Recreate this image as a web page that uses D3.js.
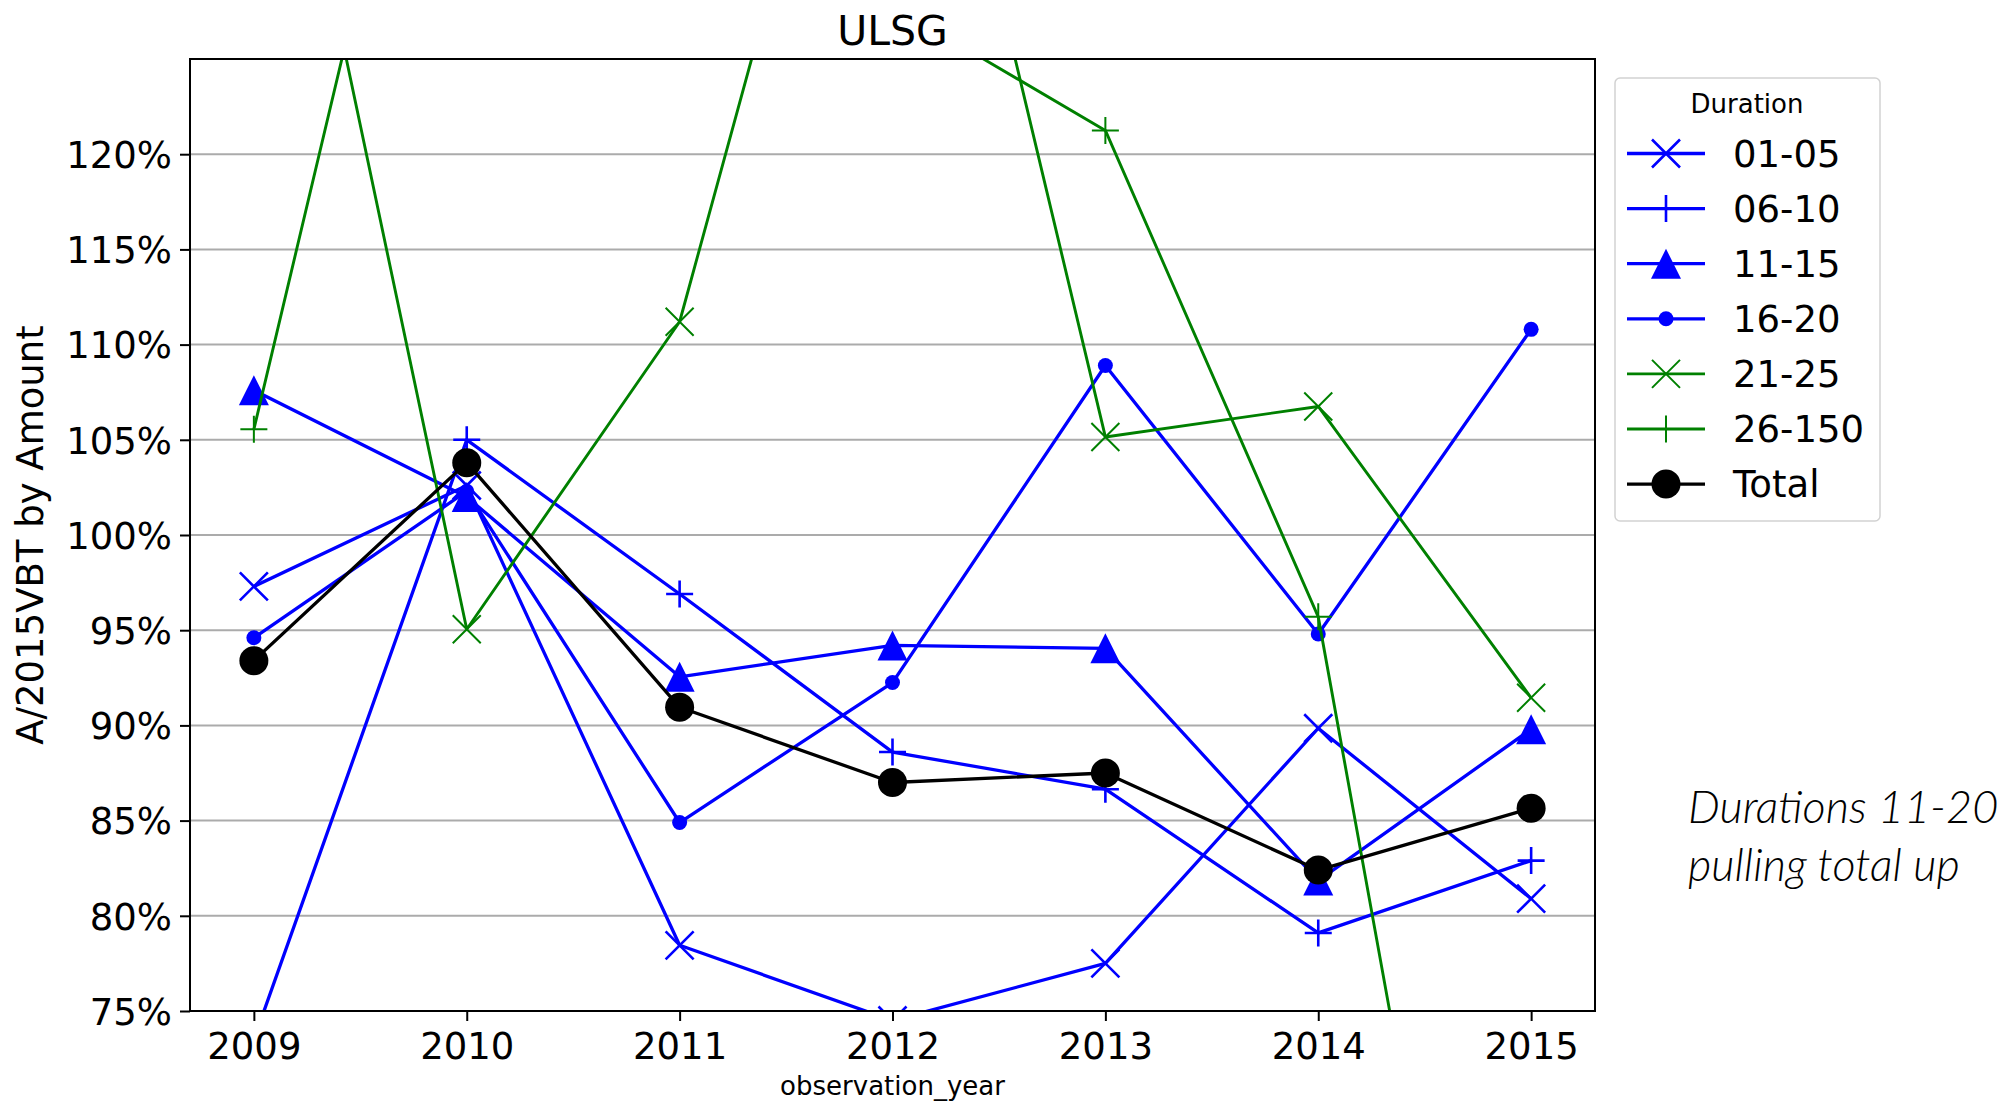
<!DOCTYPE html>
<html>
<head>
<meta charset="utf-8">
<script src="https://cdn.jsdelivr.net/npm/d3@7"></script>
<style>
  html, body { margin: 0; padding: 0; background: #ffffff; }
  svg { display: block; }
  text { font-family: "DejaVu Sans", sans-serif; fill: #000; }
</style>
</head>
<body>
<svg id="chart" width="2005" height="1105"></svg>
<script>
// ---------- data ----------
const years = [2009, 2010, 2011, 2012, 2013, 2014, 2015];
const seriesNames = ["01-05", "06-10", "11-15", "16-20", "21-25", "26-150", "Total"];
const v0105  = [97.3, 102.6, 78.45, 74.5, 77.5, 89.85, 80.9];
const v0610  = [73.5, 105.0, 96.9, 88.6, 86.65, 79.1, 82.9];
const v1115  = [107.6, 102.0, 92.55, 94.2, 94.05, 81.85, 89.8];
const v1620  = [94.6, 102.3, 84.9, 92.25, 108.9, 94.8, 110.8];
const v2125  = [148, 95.05, 111.2, 152, 105.15, 106.75, 91.45];
const v26150 = [105.55, 152.6, 139, 127.8, 121.25, 95.7, 34];
const vTotal = [93.4, 103.8, 90.95, 87.0, 87.5, 82.4, 85.65];
const yTicks = [75, 80, 85, 90, 95, 100, 105, 110, 115, 120];
const titleText = "ULSG";
const xLabel = "observation_year";
const yLabel = "A/2015VBT by Amount";
const legendTitle = "Duration";
const noteLines = ["Durations 11-20", "pulling total up"];

// ---------- styles ----------
const styles = {
  "01-05":  {color: "#0000ff", marker: "x",   lw: 3.3, mew: 2.6, size: 14},
  "06-10":  {color: "#0000ff", marker: "+",   lw: 3.3, mew: 2.6, size: 13.5},
  "11-15":  {color: "#0000ff", marker: "tri", lw: 3.3, mew: 0,   size: 15},
  "16-20":  {color: "#0000ff", marker: "dot", lw: 3.3, mew: 0,   size: 7.5},
  "21-25":  {color: "#008000", marker: "x",   lw: 2.9, mew: 2.0, size: 14},
  "26-150": {color: "#008000", marker: "+",   lw: 2.9, mew: 2.0, size: 13.5},
  "Total":  {color: "#000000", marker: "dot", lw: 3.3, mew: 0,   size: 14.5}
};
const values = [v0105, v0610, v1115, v1620, v2125, v26150, vTotal];

// ---------- layout ----------
const W = 2005, H = 1105;
const plot = {left: 190, right: 1595, top: 59, bottom: 1011};

const svg = d3.select("#chart");
svg.append("rect").attr("width", W).attr("height", H).attr("fill", "#fff");

const x = d3.scaleLinear().domain([2008.7, 2015.3]).range([plot.left, plot.right]);
const y = d3.scaleLinear().domain([75, 125]).range([plot.bottom, plot.top]);

svg.append("defs").append("clipPath").attr("id", "plotclip")
  .append("rect")
  .attr("x", plot.left).attr("y", plot.top)
  .attr("width", plot.right - plot.left).attr("height", plot.bottom - plot.top);

// grid
svg.append("g").selectAll("line").data(yTicks).join("line")
  .attr("x1", plot.left).attr("x2", plot.right)
  .attr("y1", d => y(d)).attr("y2", d => y(d))
  .attr("stroke", "#ababab").attr("stroke-width", 2);

// marker path generator
function markerPath(type, r) {
  if (type === "x") return `M${-r},${-r}L${r},${r}M${-r},${r}L${r},${-r}`;
  if (type === "+") return `M${-r},0H${r}M0,${-r}V${r}`;
  if (type === "tri") return `M0,${-r}L${r},${r}L${-r},${r}Z`;
  if (type === "dot") return d3.arc()({innerRadius: 0, outerRadius: r, startAngle: 0, endAngle: 2 * Math.PI});
  return "";
}
function drawMarker(g, st) {
  const p = g.append("path").attr("d", markerPath(st.marker, st.size));
  if (st.marker === "x" || st.marker === "+") {
    p.attr("fill", "none").attr("stroke", st.color).attr("stroke-width", st.mew);
  } else {
    p.attr("fill", st.color).attr("stroke", "none");
  }
}

// series
const plotG = svg.append("g").attr("clip-path", "url(#plotclip)");
const line = d3.line().x((d, i) => x(years[i])).y(d => y(d));
seriesNames.forEach((name, si) => {
  const st = styles[name];
  const g = plotG.append("g");
  g.append("path").datum(values[si]).attr("d", line)
    .attr("fill", "none").attr("stroke", st.color).attr("stroke-width", st.lw)
    .attr("stroke-linejoin", "round");
  values[si].forEach((v, i) => {
    const mg = g.append("g").attr("transform", `translate(${x(years[i])},${y(v)})`);
    drawMarker(mg, st);
  });
});

// axes
const yAxis = d3.axisLeft(y).tickValues(yTicks).tickFormat(d => d + "%").tickSize(10).tickPadding(8);
const xAxis = d3.axisBottom(x).tickValues(years).tickFormat(d3.format("d")).tickSize(10).tickPadding(10);
const gy = svg.append("g").attr("transform", `translate(${plot.left},0)`).call(yAxis);
const gx = svg.append("g").attr("transform", `translate(0,${plot.bottom})`).call(xAxis);
[gx, gy].forEach(g => {
  g.select(".domain").remove();
  g.selectAll(".tick line").attr("stroke", "#000").attr("stroke-width", 2);
  g.selectAll(".tick text").style("font-family", "DejaVu Sans").style("font-size", "37px").attr("fill", "#000");
});
gy.selectAll(".tick text").attr("dy", "0.36em");
gx.selectAll(".tick text").attr("dy", "0.76em");

// frame
svg.append("rect")
  .attr("x", plot.left).attr("y", plot.top)
  .attr("width", plot.right - plot.left).attr("height", plot.bottom - plot.top)
  .attr("fill", "none").attr("stroke", "#000").attr("stroke-width", 2);

// title & labels
svg.append("text").attr("x", (plot.left + plot.right) / 2).attr("y", 45)
  .attr("text-anchor", "middle").style("font-size", "41px").text(titleText);
svg.append("text").attr("x", (plot.left + plot.right) / 2).attr("y", 1095)
  .attr("text-anchor", "middle").style("font-size", "26px").text(xLabel);
svg.append("text")
  .attr("transform", `translate(43,${(plot.top + plot.bottom) / 2}) rotate(-90)`)
  .attr("text-anchor", "middle").style("font-size", "37px").text(yLabel);

// legend
const lg = svg.append("g");
lg.append("rect").attr("x", 1615).attr("y", 78).attr("width", 265).attr("height", 443)
  .attr("rx", 5).attr("fill", "#fff").attr("fill-opacity", 0.85)
  .attr("stroke", "#d2d2d2").attr("stroke-width", 1.5);
lg.append("text").attr("x", 1747).attr("y", 113).attr("text-anchor", "middle")
  .style("font-size", "26px").text(legendTitle);
seriesNames.forEach((name, i) => {
  const st = styles[name];
  const cy = 153.5 + i * 55.1;
  const e = lg.append("g").attr("transform", `translate(0,${cy})`);
  e.append("line").attr("x1", 1627).attr("x2", 1705).attr("y1", 0).attr("y2", 0)
    .attr("stroke", st.color).attr("stroke-width", st.lw);
  const mg = e.append("g").attr("transform", "translate(1666,0)");
  drawMarker(mg, st);
  e.append("text").attr("x", 1733).attr("y", 0).attr("dy", "0.36em")
    .style("font-size", "37px").text(name);
});

// annotation
const note = svg.append("text").attr("x", 1688).attr("y", 823)
  .style("font-family", "Lato, 'Open Sans', sans-serif")
  .style("font-style", "italic").style("font-weight", 300).style("font-size", "45px");
noteLines.forEach((t, i) => {
  note.append("tspan").attr("x", 1688).attr("dy", i === 0 ? 0 : 58).text(t);
});
</script>
</body>
</html>
